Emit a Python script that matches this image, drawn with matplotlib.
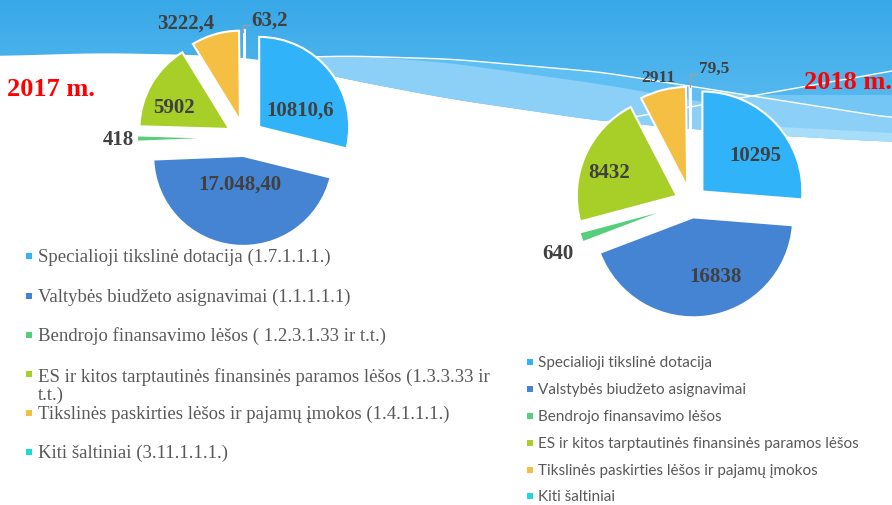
import matplotlib
matplotlib.use('Agg')
import matplotlib.pyplot as plt
import numpy as np
from matplotlib.patches import Polygon
from matplotlib.colors import to_rgb

W, H = 892, 506

# ---------------- data ----------------
categories_2017 = [
    "Specialioji tikslinė dotacija (1.7.1.1.1.)",
    "Valtybės biudžeto asignavimai (1.1.1.1.1)",
    "Bendrojo finansavimo lėšos ( 1.2.3.1.33 ir t.t.)",
    "ES ir kitos tarptautinės finansinės paramos lėšos (1.3.3.33 ir\nt.t.)",
    "Tikslinės paskirties lėšos ir pajamų įmokos (1.4.1.1.1.)",
    "Kiti šaltiniai (3.11.1.1.1.)",
]
categories_2018 = [
    "Specialioji tikslinė dotacija",
    "Valstybės biudžeto asignavimai",
    "Bendrojo finansavimo lėšos",
    "ES ir kitos tarptautinės finansinės paramos lėšos",
    "Tikslinės paskirties lėšos ir pajamų įmokos",
    "Kiti šaltiniai",
]
values_2017 = [10810.6, 17048.4, 418, 5902, 3222.4, 63.2]
values_2018 = [10295, 16838, 640, 8432, 2911, 79.5]
labels_2017 = ["10810,6", "17.048,40", "418", "5902", "3222,4", "63,2"]
labels_2018 = ["10295", "16838", "640", "8432", "2911", "79,5"]
year_titles = ["2017 m.", "2018 m."]

colors = ['#31B3F9', '#4584D3', '#55CF7A', '#A8CF28', '#F4BF42', '#1BD9D6']

# ---------------- figure ----------------
fig = plt.figure(figsize=(W / 100, H / 100), dpi=100)
ax = fig.add_axes([0, 0, 1, 1])


def Y(y):
    return H - y


# background: sky gradient
grad_top = np.array(to_rgb('#38A8E8'))
grad_bot = np.array(to_rgb('#66C2F3'))
n = 200
t = np.linspace(0, 1, n)[:, None]
grad = (grad_top * (1 - t) + grad_bot * t)[:, None, :]
ax.imshow(grad, extent=(0, W, Y(160), Y(0)), aspect='auto', zorder=-6,
          origin='upper', interpolation='bilinear')


def smooth(points, num=200):
    xs = np.array([p[0] for p in points], float)
    ys = np.array([p[1] for p in points], float)
    xx = np.linspace(xs[0], xs[-1], num)
    yy = np.interp(xx, xs, ys)
    k = 15
    ker = np.ones(k) / k
    yp = np.pad(yy, (k // 2, k // 2), mode='edge')
    yy = np.convolve(yp, ker, mode='valid')
    return xx, yy


# white lower region
bw_x, bw_y = smooth([(0, 57), (100, 54), (200, 56), (262, 60), (345, 80),
                     (450, 100), (600, 122), (750, 135), (892, 143)])
poly = list(zip(bw_x, Y(bw_y))) + [(W, 0), (0, 0)]
ax.add_patch(Polygon(poly, closed=True, facecolor='white', edgecolor='none', zorder=-5))

# light band between W1 and white region
w1_x, w1_y = smooth([(262, 59), (350, 57), (450, 60), (600, 73), (746, 96), (892, 119)])
bw2_y = np.interp(w1_x, bw_x, bw_y)
band = list(zip(w1_x, Y(w1_y))) + list(zip(w1_x[::-1], Y(bw2_y[::-1])))
ax.add_patch(Polygon(band, closed=True, facecolor='#8DD0F7', edgecolor='none', zorder=-4))

# medium strip under W1
m_x = np.linspace(380, 720, 100)
m_top = np.interp(m_x, w1_x, w1_y)
m_bot = m_top + np.interp(m_x, [380, 600, 720], [0.5, 12, 14])
mid = list(zip(m_x, Y(m_top))) + list(zip(m_x[::-1], Y(m_bot[::-1])))
ax.add_patch(Polygon(mid, closed=True, facecolor='#5FBEF2', edgecolor='none', zorder=-3))

# medium region on the right above W1
r_x = np.linspace(746, 892, 60)
r_bot = np.interp(r_x, w1_x, w1_y)
r_top = np.interp(r_x, [746, 892], [96, 96])
rm = list(zip(r_x, Y(r_top))) + list(zip(r_x[::-1], Y(r_bot[::-1])))
ax.add_patch(Polygon(rm, closed=True, facecolor='#74C7F4', edgecolor='none', zorder=-3))
# lighter strip near the bottom on the right
l_x = np.linspace(780, 892, 50)
l_top = np.interp(l_x, [780, 892], [128, 134])
l_bot = np.interp(l_x, bw_x, bw_y)
lm = list(zip(l_x, Y(l_top))) + list(zip(l_x[::-1], Y(l_bot[::-1])))
ax.add_patch(Polygon(lm, closed=True, facecolor='#A8DDF9', edgecolor='none', zorder=-3))

# white lines
sel = w1_x >= 310
ax.plot(w1_x[sel], Y(w1_y[sel]), color='white', lw=1.0, zorder=-2)
ax.plot([600, 892], [Y(124), Y(72)], color='white', lw=1.0, zorder=-2)

# ---------------- pies ----------------
pie_specs = [
    dict(values=values_2017, center=(245, 139), radius=90, explode=18),
    dict(values=values_2018, center=(691, 203), radius=100, explode=15.5),
]
for spec in pie_specs:
    cx, cy = spec['center']
    ax.pie(spec['values'], colors=colors, startangle=90, counterclock=False,
           radius=spec['radius'], center=(cx, Y(cy)),
           explode=[spec['explode']] * len(spec['values']),
           wedgeprops=dict(edgecolor='white', linewidth=1.5), frame=True)

# ---------------- value labels ----------------
lab_col = '#404040'
pos_2017 = [(300, 111), (240, 185), (118, 140), (174, 108), (186, 24), (269, 21)]
size_2017 = [15, 15, 15, 15, 15, 15]
pos_2018 = [(755, 156), (716, 277), (558, 254), (609, 173), (658, 78), (714, 69)]
size_2018 = [15, 15, 15, 15, 12.5, 12.5]
for labs, pos, sz in [(labels_2017, pos_2017, size_2017), (labels_2018, pos_2018, size_2018)]:
    for lab, (x, y), s in zip(labs, pos, sz):
        ax.text(x, Y(y), lab, ha='center', va='center', fontsize=s,
                family='Liberation Serif', weight='bold', color=lab_col, zorder=5)

# leader lines for the tiny slices
ax.plot([243, 243, 250], [Y(33), Y(26), Y(26)], color='#A0A0A0', lw=0.9, zorder=4)
ax.plot([690, 690, 697], [Y(88), Y(75), Y(75)], color='#A0A0A0', lw=0.9, zorder=4)

# year titles
ax.text(51, Y(89), year_titles[0], ha='center', va='center', fontsize=19,
        family='Liberation Serif', weight='bold', color='#FF0000')
ax.text(804, Y(82), year_titles[1], ha='left', va='center', fontsize=19,
        family='Liberation Serif', weight='bold', color='#FF0000')

# ---------------- legends ----------------
leg_col = '#595959'
rows_2017 = [257, 297, 336, 386, 414, 453]
marker_rows_2017 = [257, 297, 336, 375, 414, 453]
for cat, col, ty, my in zip(categories_2017, colors, rows_2017, marker_rows_2017):
    ax.scatter([29], [Y(my)], marker='s', s=24, color=col, zorder=5, linewidths=0)
    ax.text(38, Y(ty), cat, ha='left', va='center', fontsize=13.5,
            family='Liberation Serif', color=leg_col, linespacing=1.05)

rows_2018 = [363, 390, 417, 444, 471, 497]
for cat, col, ry in zip(categories_2018, colors, rows_2018):
    ax.scatter([530], [Y(ry)], marker='s', s=20, color=col, zorder=5, linewidths=0)
    ax.text(538, Y(ry), cat, ha='left', va='center', fontsize=11,
            family='Lato', color=leg_col)

ax.set_xlim(0, W)
ax.set_ylim(0, H)
ax.set_aspect('auto')
ax.set_axis_off()
fig.savefig('out.png', dpi=100, facecolor='white')
